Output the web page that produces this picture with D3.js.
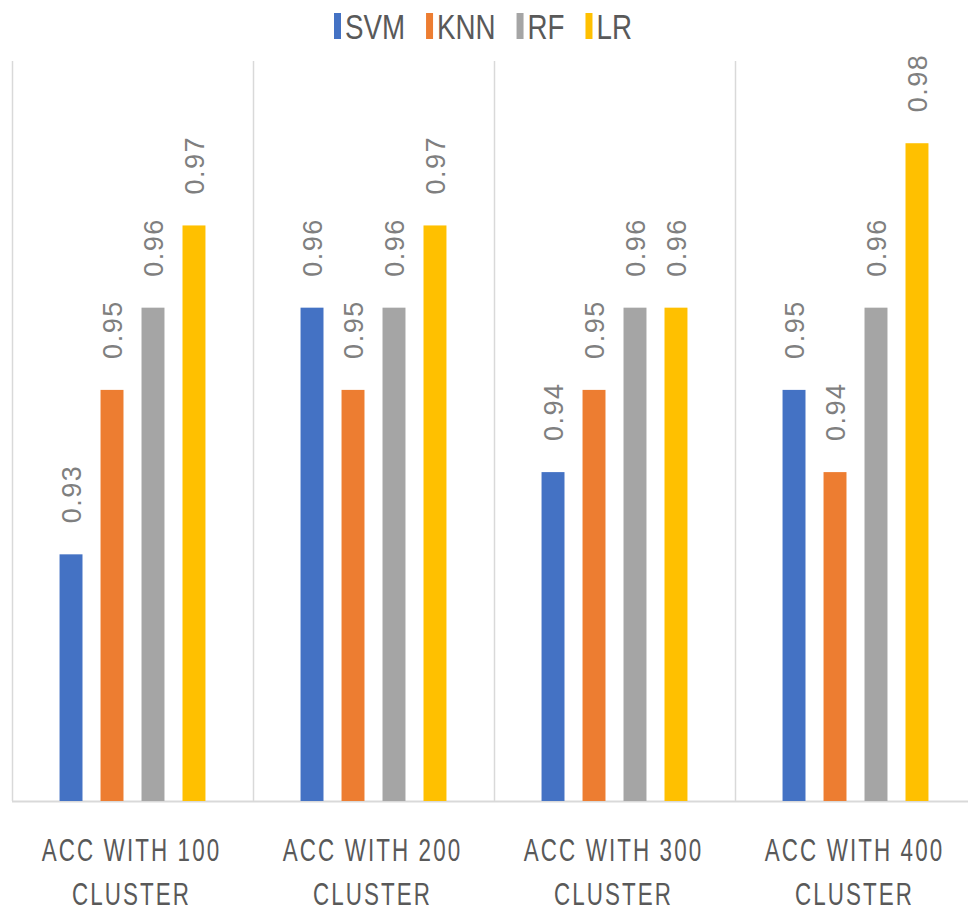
<!DOCTYPE html>
<html>
<head>
<meta charset="utf-8">
<script src="https://cdn.jsdelivr.net/npm/d3@7"></script>
<style>
  body { margin: 0; background: #fff; }
  text { font-family: "Liberation Sans", Arial, sans-serif; }
</style>
</head>
<body>
<svg id="chart" width="968" height="911"></svg>
<script>
// ---------------- data ----------------
var categories = ["ACC WITH 100 CLUSTER", "ACC WITH 200 CLUSTER", "ACC WITH 300 CLUSTER", "ACC WITH 400 CLUSTER"];
var series = ["SVM", "KNN", "RF", "LR"];
var svmValues = [0.93, 0.96, 0.94, 0.95];
var knnValues = [0.95, 0.95, 0.95, 0.94];
var rfValues  = [0.96, 0.96, 0.96, 0.96];
var lrValues  = [0.97, 0.97, 0.96, 0.98];
var seriesColors = ["#4472C4", "#ED7D31", "#A5A5A5", "#FFC000"];

var valuesBySeries = [svmValues, knnValues, rfValues, lrValues];

// ---------------- layout ----------------
var width = 968, height = 911;
var plotLeft = 12, plotRight = 976, plotTop = 61, plotBottom = 801;
var svg = d3.select("#chart");

var x0 = d3.scaleBand()
    .domain(categories)
    .range([plotLeft, plotRight])
    .paddingInner(0)
    .paddingOuter(0);

var x1 = d3.scaleBand()
    .domain(series)
    .range([0, x0.bandwidth()])
    .paddingInner(0.44)
    .paddingOuter(1.16);

var yScale = d3.scaleLinear()
    .domain([0.90, 0.99])
    .range([plotBottom, plotTop]);

var color = d3.scaleOrdinal().domain(series).range(seriesColors);

// ---------------- separators / baseline ----------------
var seps = categories.map(function(c) { return x0(c); }).concat([plotRight]);
svg.append("g").selectAll("line")
    .data(seps)
  .enter().append("line")
    .attr("x1", function(d) { return d + 0.5; })
    .attr("x2", function(d) { return d + 0.5; })
    .attr("y1", plotTop)
    .attr("y2", plotBottom)
    .style("stroke", "#d9d9d9")
    .style("stroke-width", 1.5);

svg.append("line")
    .attr("x1", plotLeft).attr("x2", width)
    .attr("y1", plotBottom + 0.5).attr("y2", plotBottom + 0.5)
    .style("stroke", "#d9d9d9")
    .style("stroke-width", 2);

// ---------------- bars ----------------
var rows = [];
categories.forEach(function(c, ci) {
  series.forEach(function(s, si) {
    rows.push({ cat: c, ser: s, value: valuesBySeries[si][ci] });
  });
});

var groups = svg.append("g");
groups.selectAll("rect")
    .data(rows)
  .enter().append("rect")
    .attr("x", function(d) { return x0(d.cat) + x1(d.ser); })
    .attr("y", function(d) { return yScale(d.value); })
    .attr("width", x1.bandwidth())
    .attr("height", function(d) { return plotBottom - yScale(d.value); })
    .style("fill", function(d) { return color(d.ser); });

// value labels, rotated
groups.selectAll("text.val")
    .data(rows)
  .enter().append("text")
    .attr("class", "val")
    .attr("transform", function(d) {
      var cx = x0(d.cat) + x1(d.ser) + x1.bandwidth() / 2;
      return "translate(" + cx + "," + (yScale(d.value) - 31) + ") rotate(-90)";
    })
    .attr("dy", "0.36em")
    .style("font-size", "27px")
    .style("letter-spacing", "1.5px")
    .style("fill", "#7f7f7f")
    .text(function(d) { return d.value.toFixed(2); });

// ---------------- category labels ----------------
var catG = svg.append("g").selectAll("g")
    .data(categories)
  .enter().append("g")
    .attr("transform", function(d) {
      return "translate(" + (x0(d) + x0.bandwidth() / 2 - 1) + ",0)";
    });

catG.each(function(d) {
  var g = d3.select(this);
  var parts = [d.replace(" CLUSTER", ""), "CLUSTER"];
  parts.forEach(function(p, i) {
    g.append("text")
        .attr("transform", "translate(0," + (861 + i * 44) + ") scale(0.7,1)")
        .attr("text-anchor", "middle")
        .style("font-size", "32px")
        .style("letter-spacing", "3px")
        .style("fill", "#595959")
        .text(p);
  });
});

// ---------------- legend ----------------
var legend = svg.append("g");
var lx = 334;
series.forEach(function(s, i) {
  legend.append("rect")
      .attr("x", lx).attr("y", 13)
      .attr("width", 7).attr("height", 26)
      .style("fill", color(s));
  var t = legend.append("text")
      .attr("transform", "translate(" + (lx + 11) + ",39) scale(0.77,1)")
      .style("font-size", "36px")
      .style("fill", "#595959")
      .text(s);
  var w = t.node().getComputedTextLength() * 0.77;
  lx = lx + 11 + w + 21;
});
</script>
</body>
</html>
